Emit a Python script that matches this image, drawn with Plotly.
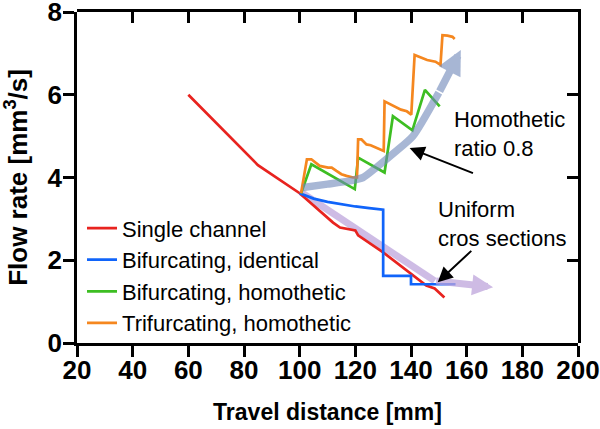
import plotly.graph_objects as go

# ---- data ----
single_x = [60, 85, 100, 112, 114.5, 120, 121, 130, 145.5, 148.5, 152]
single_y = [6.0, 4.3, 3.62, 2.91, 2.79, 2.72, 2.6, 2.19, 1.39, 1.32, 1.1]

bif_id_x = [100, 105, 110, 115, 120, 125, 130, 130, 140, 140, 156]
bif_id_y = [3.62, 3.49, 3.41, 3.35, 3.30, 3.26, 3.22, 1.62, 1.62, 1.42, 1.42]

bif_hom_x = [100.5, 104.2, 119.8, 121, 130.5, 133.5, 140.5, 145, 150.3]
bif_hom_y = [3.62, 4.32, 3.72, 4.48, 4.12, 5.48, 5.14, 6.12, 5.72]

tri_hom_x = [100.5, 102.6, 104.2, 107.2, 110.2, 111.5, 113.2, 115, 116.8, 119.2, 120.6,
             121, 122.2, 124, 125.5, 127.5, 129.3, 130.2,
             130.5, 131.7, 134, 136.4, 138.5, 140.1,
             141.3, 142.8, 145.8, 148.8, 150.6,
             151.3, 153.1, 154.9, 155.7]
tri_hom_y = [3.62, 4.44, 4.44, 4.28, 4.24, 4.24, 4.16, 4.08, 4.04, 4.0, 4.0,
             4.92, 4.92, 4.8, 4.78, 4.72, 4.68, 4.64,
             5.84, 5.8, 5.74, 5.64, 5.6, 5.52,
             6.96, 6.92, 6.84, 6.8, 6.72,
             7.44, 7.43, 7.4, 7.35]

homothetic_band_x = [101.2, 110, 118, 122.8, 127.5, 134, 140.7, 150, 157.9]
homothetic_band_y = [3.76, 3.84, 3.92, 4.0, 4.24, 4.6, 5.0, 6.05, 7.08]

uniform_band_x = [100.6, 148.5, 169.5]
uniform_band_y = [3.64, 1.5, 1.35]

series_names = ["Single channel", "Bifurcating, identical",
                "Bifurcating, homothetic", "Trifurcating, homothetic"]
series_colors = ["#E8231F", "#1064FA", "#3DBE22", "#F5871F"]
x_ticks = [20, 40, 60, 80, 100, 120, 140, 160, 180, 200]
y_ticks = [0, 2, 4, 6, 8]

FONT = "Liberation Sans, Arial, sans-serif"
HOM_COL = "rgba(110,135,185,0.6)"
UNI_COL = "rgba(190,165,220,0.75)"

fig = go.Figure()

# lavender band (under lines); last segment drawn as an arrow annotation
fig.add_trace(go.Scatter(
    x=uniform_band_x[:-1], y=uniform_band_y[:-1],
    mode="lines", line=dict(color=UNI_COL, width=7),
    showlegend=False, hoverinfo="skip"))

for xs, ys, name, col in zip([single_x, bif_id_x, bif_hom_x, tri_hom_x],
                             [single_y, bif_id_y, bif_hom_y, tri_hom_y],
                             series_names, series_colors):
    fig.add_trace(go.Scatter(x=xs, y=ys, mode="lines", name=name,
                             line=dict(color=col, width=2.7)))

# homothetic band on the second (top/right) axes pair, drawn on top
fig.add_trace(go.Scatter(
    x=homothetic_band_x[:-1], y=homothetic_band_y[:-1], mode="lines",
    xaxis="x2", yaxis="y2",
    line=dict(color=HOM_COL, width=7.5, shape="spline", smoothing=0.6),
    showlegend=False, hoverinfo="skip"))

axis_common = dict(showgrid=False, zeroline=False, showline=True,
                   linecolor="black", linewidth=2.5, ticks="outside",
                   ticklen=11, tickwidth=2.5, tickcolor="black",
                   ticklabeloverflow="allow", automargin=False)
second_common = dict(showticklabels=False, showgrid=False, zeroline=False,
                     showline=True, linecolor="black", linewidth=2.5,
                     ticks="inside", ticklen=11, tickwidth=2.5,
                     tickcolor="black", automargin=False, domain=[0, 1])

fig.update_layout(
    width=600, height=429,
    margin=dict(l=77, r=22, t=12, b=86),
    plot_bgcolor="rgba(0,0,0,0)", paper_bgcolor="white",
    font=dict(family=FONT, color="black"),
    xaxis=dict(range=[20, 200], tickvals=x_ticks,
               tickfont=dict(size=26, weight="bold"), ticklabelstandoff=-9,
               title=dict(text="Travel distance [mm]",
                          font=dict(size=23, weight="bold"), standoff=20),
               **axis_common),
    yaxis=dict(range=[0, 8], tickvals=y_ticks,
               tickfont=dict(size=26, weight="bold"), ticklabelstandoff=-4,
               title=dict(text="Flow rate [mm<sup>3</sup>/s]",
                          font=dict(size=26, weight="bold"), standoff=14),
               **axis_common),
    xaxis2=dict(range=[20, 200], tickvals=x_ticks, side="top",
                anchor="y2", **second_common),
    yaxis2=dict(range=[0, 8], tickvals=y_ticks, side="right",
                anchor="x2", **second_common),
    legend=dict(x=0.010, y=0.41, xanchor="left", yanchor="top",
                bgcolor="rgba(0,0,0,0)", font=dict(size=22),
                tracegroupgap=0),
    showlegend=True,
)

# band arrow heads (last segment of each band)
fig.add_annotation(x=homothetic_band_x[-1], y=homothetic_band_y[-1],
                   ax=homothetic_band_x[-2], ay=homothetic_band_y[-2],
                   xref="x", yref="y", axref="x", ayref="y", text="",
                   showarrow=True, arrowhead=2, arrowsize=0.65, arrowwidth=7.5,
                   arrowcolor=HOM_COL)
fig.add_annotation(x=uniform_band_x[-1], y=uniform_band_y[-1],
                   ax=uniform_band_x[-2], ay=uniform_band_y[-2],
                   xref="x", yref="y", axref="x", ayref="y", text="",
                   showarrow=True, arrowhead=2, arrowsize=0.6, arrowwidth=7,
                   arrowcolor=UNI_COL)

# text annotations with pointer arrows
fig.add_annotation(x=139.5, y=4.71, ax=162.8, ay=4.09, xref="x", yref="y",
                   axref="x", ayref="y", showarrow=True, arrowhead=2,
                   arrowsize=1.5, arrowwidth=2, arrowcolor="black", text="")
fig.add_annotation(x=149.6, y=1.47, ax=162.2, ay=2.26, xref="x", yref="y",
                   axref="x", ayref="y", showarrow=True, arrowhead=2,
                   arrowsize=1.5, arrowwidth=2, arrowcolor="black", text="")
fig.add_annotation(x=154.6, y=5.04, xref="x", yref="y", xanchor="left",
                   yanchor="middle", showarrow=False, align="left",
                   text="Homothetic<br>ratio 0.8", font=dict(size=22, family=FONT))
fig.add_annotation(x=149.0, y=2.87, xref="x", yref="y", xanchor="left",
                   yanchor="middle", showarrow=False, align="left",
                   text="Uniform<br>cros sections", font=dict(size=22, family=FONT))

fig.write_html(
    "out.html",
    config={"displayModeBar": False},
    post_script="document.body.style.margin='0';document.body.style.overflow='hidden';",
)
